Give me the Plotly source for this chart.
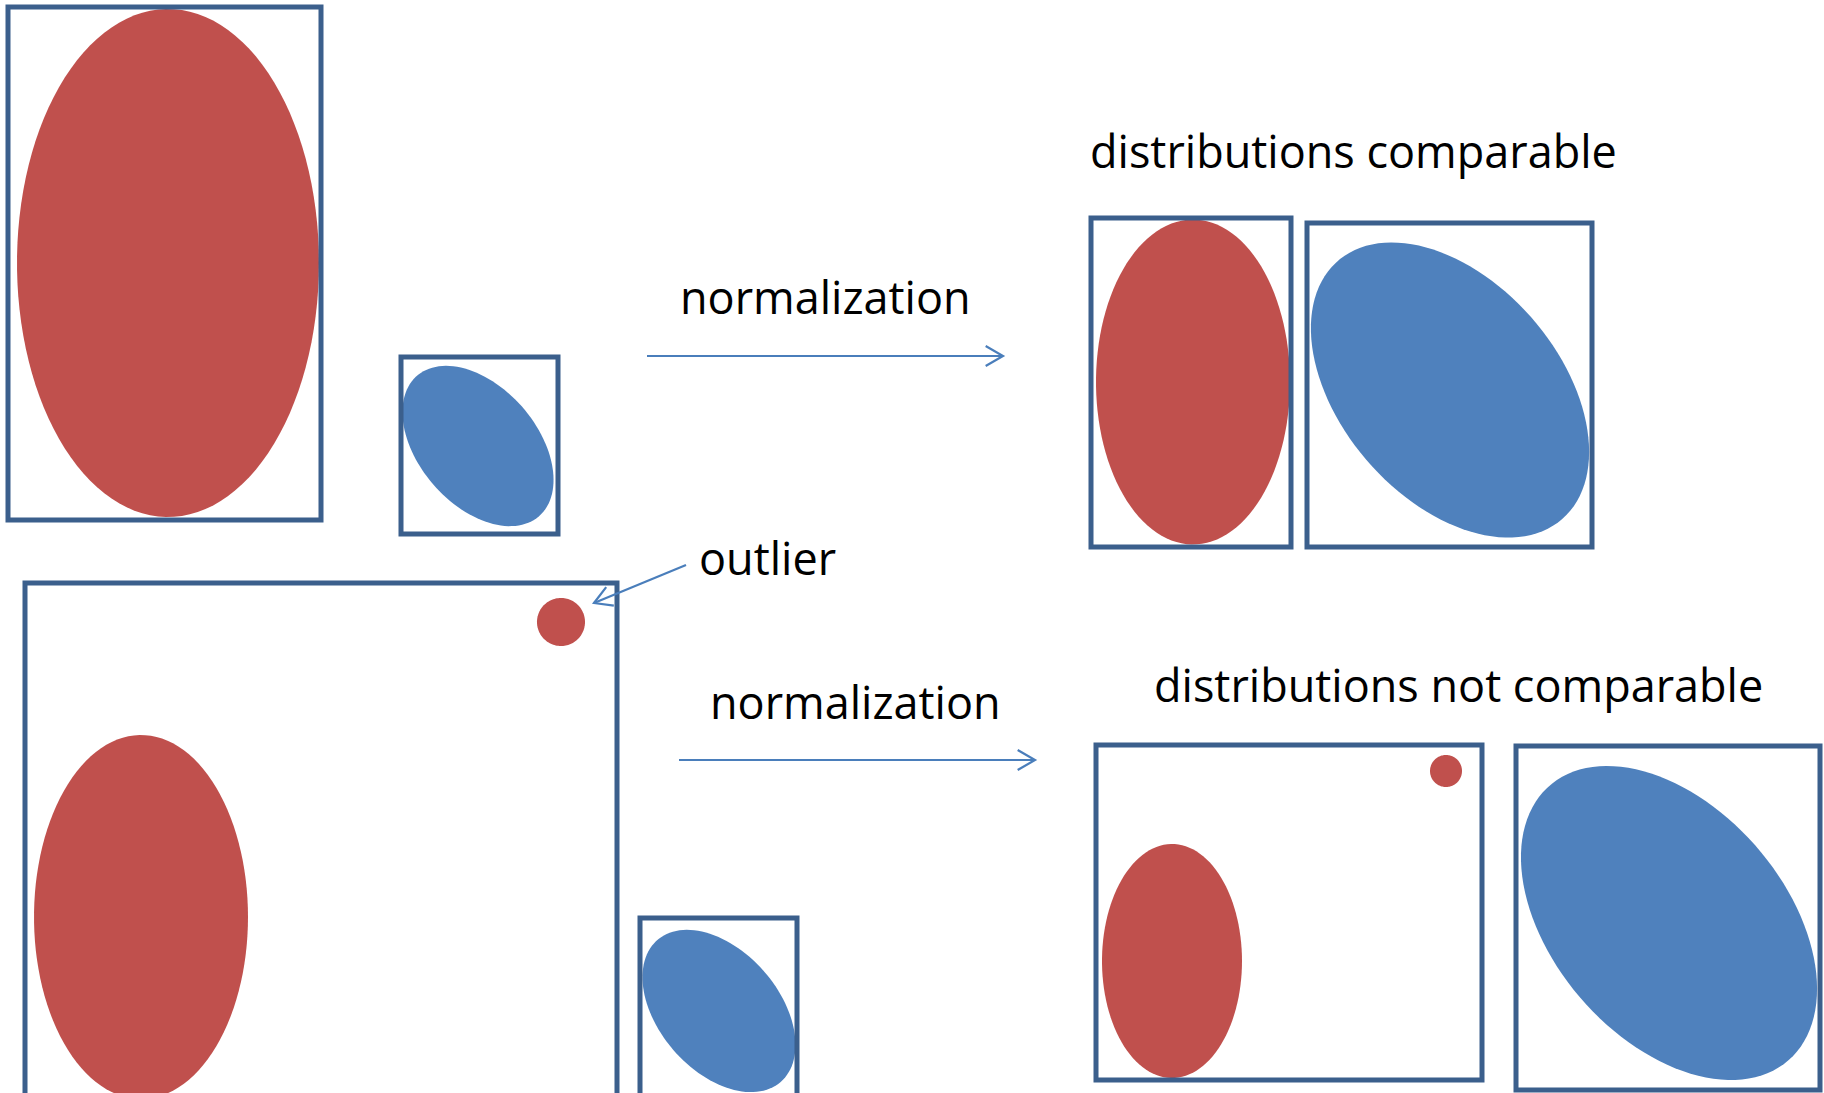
import numpy as np
import plotly.graph_objects as go

W, H = 1824, 1093

# Boxes (x0, y0, x1, y1) in canvas pixels
box_x0 = [8, 401, 1091, 1307, 25, 640, 1096, 1516]
box_y0 = [7, 357, 218, 223, 583, 918, 745, 746]
box_x1 = [321, 558, 1291, 1592, 617, 797, 1482, 1820]
box_y1 = [520, 534, 547, 547, 1120, 1120, 1080, 1090]

# Ellipses: centre, semi-axes, rotation (deg), colour key
ell_cx = [168, 478, 1193, 1450, 561, 141, 719, 1172, 1446, 1669]
ell_cy = [263, 446, 382, 390, 622, 917, 1011, 961, 771, 923]
ell_a = [151, 93, 97, 171, 24, 107, 94, 70, 16, 182]
ell_b = [254, 59, 162.5, 109, 24, 182, 60, 117, 16, 116]
ell_rot = [0, 49, 0, 49, 0, 0, 49, 0, 0, 49]
ell_col = ["red", "blue", "red", "blue", "red", "red", "blue", "red", "red", "blue"]

# Arrows: tail -> tip
arr_x0 = [647, 679, 686]
arr_y0 = [356, 760, 565]
arr_x1 = [1003, 1035, 594]
arr_y1 = [356, 760, 603]

# Labels
lab_text = ["normalization", "normalization", "outlier",
            "distributions comparable", "distributions not comparable"]
lab_x = [825, 855, 767, 1353, 1458]
lab_y = [296, 701, 557, 150, 684]

COL = {"red": "#C0504D", "blue": "#4F81BD"}
EDGE = "#3B5F8C"
ARROW = "#4A7EBB"


def ellipse_path(cx, cy, a, b, rot):
    t = np.linspace(0, 2 * np.pi, 120)
    th = np.deg2rad(rot)
    if rot == 0:
        xs = cx + a * np.cos(t)
        ys = cy + b * np.sin(t)
    else:
        xs = cx + a * np.cos(t) * np.cos(th) - b * np.sin(t) * np.sin(th)
        ys = cy + a * np.cos(t) * np.sin(th) + b * np.sin(t) * np.cos(th)
    pts = " L ".join(f"{x:.2f},{y:.2f}" for x, y in zip(xs, ys))
    return "M " + pts + " Z"


shapes = []
for cx, cy, a, b, r, c in zip(ell_cx, ell_cy, ell_a, ell_b, ell_rot, ell_col):
    shapes.append(dict(type="path", xref="x", yref="y", path=ellipse_path(cx, cy, a, b, r),
                       fillcolor=COL[c], line=dict(width=0), layer="above"))

for x0, y0, x1, y1 in zip(box_x0, box_y0, box_x1, box_y1):
    shapes.append(dict(type="rect", xref="x", yref="y", x0=x0, y0=y0, x1=x1, y1=y1,
                       line=dict(color=EDGE, width=5), fillcolor="rgba(0,0,0,0)", layer="above"))

for x0, y0, x1, y1 in zip(arr_x0, arr_y0, arr_x1, arr_y1):
    shapes.append(dict(type="line", xref="x", yref="y", x0=x0, y0=y0, x1=x1, y1=y1,
                       line=dict(color=ARROW, width=2.2), layer="above"))
    d = np.array([x0 - x1, y0 - y1], float)
    d /= np.hypot(*d)
    L, ang = 20, np.deg2rad(30)
    arms = []
    for s in (1, -1):
        ca, sa = np.cos(s * ang), np.sin(s * ang)
        v = np.array([d[0] * ca - d[1] * sa, d[0] * sa + d[1] * ca]) * L
        arms.append((x1 + v[0], y1 + v[1]))
    p = f"M {arms[0][0]:.2f},{arms[0][1]:.2f} L {x1},{y1} L {arms[1][0]:.2f},{arms[1][1]:.2f}"
    shapes.append(dict(type="path", xref="x", yref="y", path=p,
                       line=dict(color=ARROW, width=2.2), layer="above"))

annotations = [dict(x=x, y=y, xref="x", yref="y", text=t, showarrow=False,
                    xanchor="center", yanchor="middle",
                    font=dict(family="Open Sans", size=45, color="#000000"))
               for t, x, y in zip(lab_text, lab_x, lab_y)]

fig = go.Figure()
fig.add_trace(go.Scatter(x=[0, W], y=[0, H], mode="markers", marker=dict(opacity=0),
                         hoverinfo="skip", showlegend=False))
fig.update_layout(
    width=W, height=H, margin=dict(l=0, r=0, t=0, b=0),
    paper_bgcolor="white", plot_bgcolor="white",
    xaxis=dict(range=[0, W], visible=False, fixedrange=True),
    yaxis=dict(range=[H, 0], visible=False, fixedrange=True),
    shapes=shapes, annotations=annotations, showlegend=False,
)
fig.write_html("out.html", config=dict(displayModeBar=False),
               post_script="document.body.style.margin='0';document.body.style.overflow='hidden';")
